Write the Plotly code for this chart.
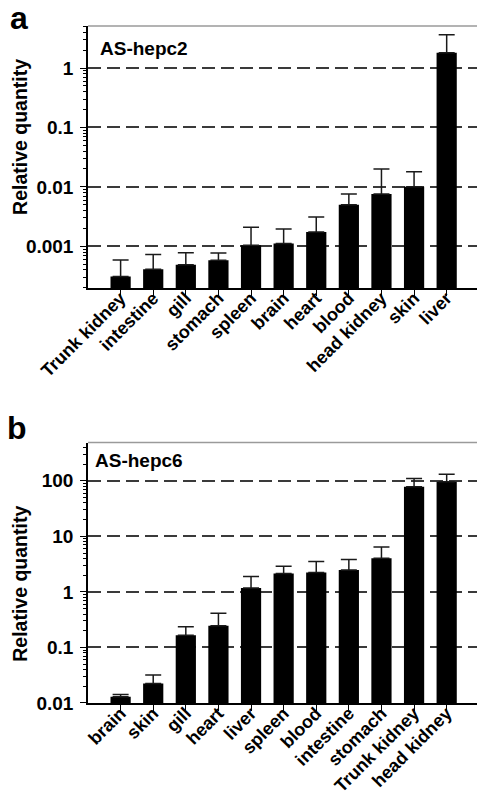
import plotly.graph_objects as go

# Panel a: AS-hepc2
tissues_a = ["Trunk kidney", "intestine", "gill", "stomach", "spleen", "brain",
             "heart", "blood", "head kidney", "skin", "liver"]
values_a = [0.00031, 0.00041, 0.00049, 0.00058, 0.00104, 0.00111,
            0.00174, 0.0050, 0.0076, 0.0100, 1.81]
upper_a = [0.00059, 0.00073, 0.00078, 0.00077, 0.0021, 0.00195,
           0.0031, 0.0076, 0.0199, 0.018, 3.64]

# Panel b: AS-hepc6
tissues_b = ["brain", "skin", "gill", "heart", "liver", "spleen", "blood",
             "intestine", "stomach", "Trunk kidney", "head kidney"]
values_b = [0.0129, 0.0225, 0.166, 0.245, 1.18, 2.14, 2.23, 2.49, 4.04, 78.3, 96.4]
upper_b = [0.0143, 0.0319, 0.235, 0.414, 1.89, 2.90, 3.52, 3.83, 6.44, 110, 132]

ticks_a = [0.001, 0.01, 0.1, 1]
ticktext_a = ["0.001", "0.01", "0.1", "1"]
ticks_b = [0.01, 0.1, 1, 10, 100]
ticktext_b = ["0.01", "0.1", "1", "10", "100"]

minor_ticks = [m * 10.0 ** e for e in range(-4, 3) for m in range(2, 10)]

W, H = 477, 807
ML, MR, MT, MB = 88, 0, 26, 103.7
PW = W - ML - MR
PH = H - MT - MB

def px(x):
    return (x - ML) / PW

def py(y):
    return (H - MB - y) / PH

FONT = "Liberation Sans, Arial, sans-serif"

fig = go.Figure()

fig.add_trace(go.Bar(
    x=tissues_a, y=values_a, xaxis="x", yaxis="y",
    marker=dict(color="black", line=dict(width=0)), width=0.62,
    error_y=dict(type="data", symmetric=False,
                 array=[u - v for u, v in zip(upper_a, values_a)],
                 arrayminus=[0] * len(values_a),
                 color="#1a1a1a", thickness=1.5, width=8),
    showlegend=False,
))
fig.add_trace(go.Bar(
    x=tissues_b, y=values_b, xaxis="x2", yaxis="y2",
    marker=dict(color="black", line=dict(width=0)), width=0.62,
    error_y=dict(type="data", symmetric=False,
                 array=[u - v for u, v in zip(upper_b, values_b)],
                 arrayminus=[0] * len(values_b),
                 color="#1a1a1a", thickness=1.5, width=8),
    showlegend=False,
))

xtickfont = dict(family=FONT, size=18, color="black", weight="bold")
ytickfont = dict(family=FONT, size=19, color="black", weight="bold")

xcommon = dict(
    type="category", range=[-1, 10.93], showline=True, linecolor="black", linewidth=1.5,
    ticks="outside", ticklen=6, tickwidth=1.2, tickcolor="black",
    tickangle=-45, tickfont=xtickfont, ticklabelstandoff=-15,
    showgrid=False, zeroline=False,
)
ycommon = dict(
    type="log", showline=True, linecolor="black", linewidth=1.5,
    ticks="outside", ticklen=6, tickwidth=1.2, tickcolor="black",
    tickmode="array", tickfont=ytickfont, ticklabelstandoff=3,
    showgrid=True, gridcolor="#3a3a3a", gridwidth=1.5, griddash="13px,6px",
    zeroline=False,
    minor=dict(ticks="outside", ticklen=3, tickwidth=1, tickcolor="black",
               tickmode="array", tickvals=minor_ticks, showgrid=False),
)

d_a_bottom = py(288)
d_b_top = py(442.7)

fig.update_layout(
    width=W, height=H,
    margin=dict(l=ML, r=MR, t=MT, b=MB),
    paper_bgcolor="white", plot_bgcolor="white",
    bargap=0.38,
    xaxis=dict(**xcommon, anchor="y"),
    xaxis2=dict(**xcommon, anchor="y2"),
    yaxis=dict(**ycommon, domain=[d_a_bottom, 1], anchor="x",
               range=[-3.70, 0.707], tickvals=ticks_a, ticktext=ticktext_a),
    yaxis2=dict(**ycommon, domain=[0, d_b_top], anchor="x2",
                range=[-2, 2.69], tickvals=ticks_b, ticktext=ticktext_b),
)

# top frame lines
for yref in ["y domain", "y2 domain"]:
    xref = "x domain" if yref == "y domain" else "x2 domain"
    fig.add_shape(type="line", xref=xref, yref=yref, x0=0, x1=1, y0=1, y1=1,
                  line=dict(color="#9a9a9a", width=1.5))

ann_font_big = dict(family=FONT, size=32, color="black", weight="bold")
ann_font = dict(family=FONT, size=19, color="black", weight="bold")
title_font = dict(family=FONT, size=19.5, color="black", weight="bold")

annotations = [
    dict(text="a", x=px(8), y=py(18), xanchor="left", yanchor="middle", font=ann_font_big),
    dict(text="b", x=px(5), y=py(428), xanchor="left", yanchor="middle", font=ann_font_big),
    dict(text="AS-hepc2", x=px(98), y=py(48.5), xanchor="left", yanchor="middle", font=ann_font),
    dict(text="AS-hepc6", x=px(93), y=py(461), xanchor="left", yanchor="middle", font=ann_font),
    dict(text="Relative quantity", x=px(20), y=py(137), xanchor="center", yanchor="middle",
         textangle=-90, font=title_font),
    dict(text="Relative quantity", x=px(20), y=py(584), xanchor="center", yanchor="middle",
         textangle=-90, font=title_font),
]
for a in annotations:
    a.update(xref="paper", yref="paper", showarrow=False)
fig.update_layout(annotations=annotations)

fig.write_html("out.html",
               config={"displayModeBar": False},
               post_script="document.body.style.margin='0';document.body.style.overflow='hidden';")
